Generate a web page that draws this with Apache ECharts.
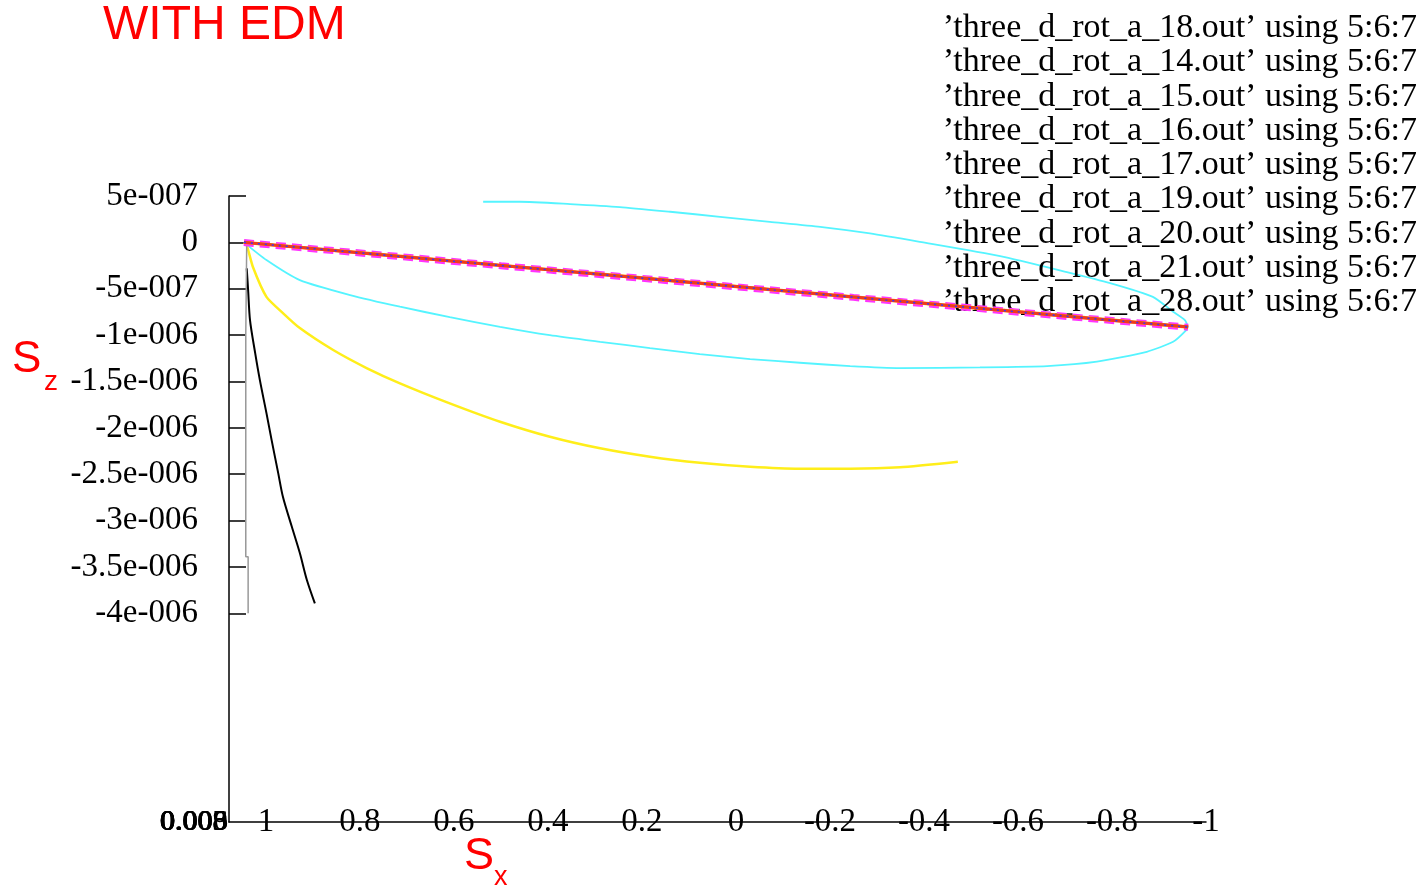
<!DOCTYPE html>
<html>
<head>
<meta charset="utf-8">
<script src="https://cdn.jsdelivr.net/npm/echarts@6/dist/echarts.min.js"></script>
<style>
html,body{margin:0;padding:0;background:#fff;}
#chart{width:1422px;height:890px;}
</style>
</head>
<body>
<div id="chart"></div>
<script>
// ---- data (Sx, Sz) ----
const seriesNames = [
  "\u2019three_d_rot_a_18.out\u2019 using 5:6:7",
  "\u2019three_d_rot_a_14.out\u2019 using 5:6:7",
  "\u2019three_d_rot_a_15.out\u2019 using 5:6:7",
  "\u2019three_d_rot_a_16.out\u2019 using 5:6:7",
  "\u2019three_d_rot_a_17.out\u2019 using 5:6:7",
  "\u2019three_d_rot_a_19.out\u2019 using 5:6:7",
  "\u2019three_d_rot_a_20.out\u2019 using 5:6:7",
  "\u2019three_d_rot_a_21.out\u2019 using 5:6:7",
  "\u2019three_d_rot_a_28.out\u2019 using 5:6:7"
];

const run18 = [[1.047,0],[0.75,-1.35e-7],[0.5,-2.49e-7],[0.25,-3.62e-7],[0,-4.76e-7],[-0.25,-5.90e-7],[-0.5,-7.03e-7],[-0.75,-8.17e-7],[-0.962,-9.13e-7]];
const run14 = [[1.041,-1.1e-8],[1.043,-1.0e-6],[1.043,-2.0e-6],[1.043,-3.39e-6],[1.038,-3.39e-6],[1.038,-4.0e-6]];
const run15 = [[1.047,0],[0.75,-1.36e-7],[0.5,-2.50e-7],[0.25,-3.63e-7],[0,-4.77e-7],[-0.25,-5.91e-7],[-0.5,-7.04e-7],[-0.75,-8.18e-7],[-0.962,-9.14e-7]];
const run16 = [[1.047,-2e-9],[0.75,-1.37e-7],[0.5,-2.52e-7],[0.25,-3.65e-7],[0,-4.79e-7],[-0.25,-5.93e-7],[-0.5,-7.06e-7],[-0.75,-8.20e-7],[-0.962,-9.15e-7]];
const run17 = [[1.047,0],[0.75,-1.34e-7],[0.5,-2.48e-7],[0.25,-3.61e-7],[0,-4.75e-7],[-0.25,-5.89e-7],[-0.5,-7.02e-7],[-0.75,-8.16e-7],[-0.962,-9.12e-7]];
const run19 = [[1.047,0],[0.999,-1.91e-7],[0.928,-4.07e-7],[0.821,-5.68e-7],[0.715,-6.94e-7],[0.609,-8.06e-7],[0.502,-9.10e-7],[0.396,-1.000e-6],[0.289,-1.072e-6],[0.183,-1.140e-6],[0.077,-1.204e-6],[-0.030,-1.258e-6],[-0.136,-1.298e-6],[-0.243,-1.334e-6],[-0.349,-1.355e-6],[-0.519,-1.348e-6],[-0.662,-1.334e-6],[-0.768,-1.287e-6],[-0.874,-1.180e-6],[-0.930,-1.072e-6],[-0.958,-9.46e-7],[-0.961,-9.10e-7],[-0.955,-8.38e-7],[-0.930,-7.48e-7],[-0.887,-5.87e-7],[-0.796,-4.39e-7],[-0.704,-3.20e-7],[-0.562,-1.48e-7],[-0.391,6e-9],[-0.285,9.7e-8],[-0.179,1.68e-7],[-0.072,2.22e-7],[0.034,2.76e-7],[0.140,3.30e-7],[0.247,3.81e-7],[0.353,4.13e-7],[0.460,4.38e-7],[0.538,4.38e-7]];
const run20 = [[1.047,0],[1.041,-2.9e-8],[1.028,-2.63e-7],[0.999,-5.87e-7],[0.964,-7.62e-7],[0.928,-9.24e-7],[0.857,-1.161e-6],[0.786,-1.355e-6],[0.715,-1.520e-6],[0.609,-1.736e-6],[0.502,-1.934e-6],[0.396,-2.096e-6],[0.289,-2.221e-6],[0.183,-2.312e-6],[0.077,-2.377e-6],[-0.030,-2.420e-6],[-0.136,-2.441e-6],[-0.243,-2.441e-6],[-0.349,-2.426e-6],[-0.472,-2.366e-6]];
const run21 = [[1.041,-2.80e-7],[1.038,-5.14e-7],[1.034,-8.38e-7],[1.023,-1.194e-6],[1.013,-1.485e-6],[0.999,-1.841e-6],[0.988,-2.132e-6],[0.974,-2.488e-6],[0.964,-2.743e-6],[0.945,-3.067e-6],[0.928,-3.350e-6],[0.913,-3.641e-6],[0.896,-3.893e-6]];
const run28 = [[1.047,0],[0.75,-1.33e-7],[0.5,-2.47e-7],[0.25,-3.60e-7],[0,-4.74e-7],[-0.25,-5.88e-7],[-0.5,-7.01e-7],[-0.75,-8.15e-7],[-0.962,-9.11e-7]];

const xTickValues = [1,0.8,0.6,0.4,0.2,0,-0.2,-0.4,-0.6,-0.8,-1];
const xTickLabels = ['1','0.8','0.6','0.4','0.2','0','-0.2','-0.4','-0.6','-0.8','-1'];
const yTickValues = [5e-7,0,-5e-7,-1e-6,-1.5e-6,-2e-6,-2.5e-6,-3e-6,-3.5e-6,-4e-6];
const yTickLabels = ['5e-007','0','-5e-007','-1e-006','-1.5e-006','-2e-006','-2.5e-006','-3e-006','-3.5e-006','-4e-006'];
const collapsedLabels = ['0.003','0.005','0.006','0.008','0.009'];

const xMin = -1, xMax = 1.0787;
const yMin = -6.25e-6, yMax = 5e-7;

function lookup(vals, labs, v, eps) {
  for (let i = 0; i < vals.length; i++) if (Math.abs(vals[i] - v) < eps) return labs[i];
  return '';
}

const serif = 'Liberation Serif';
const chart = echarts.init(document.getElementById('chart'), null, {renderer: 'canvas'});

function line(name, data, color, width, type, z, smooth) {
  return {
    name: name, type: 'line', data: data, showSymbol: false, symbol: 'none',
    smooth: smooth || false, z: z, animation: false,
    lineStyle: {color: color, width: width, type: type},
    itemStyle: {color: color}
  };
}

const graphics = [
  {type: 'text', left: 103, top: 2, style: {text: 'WITH EDM', fill: '#ff0000', font: '48px "Liberation Sans"'}},
  {type: 'text', x: 12, y: 360, style: {text: 'S', fill: '#ff0000', font: '44px "Liberation Sans"', verticalAlign: 'middle'}},
  {type: 'text', x: 44, y: 382, style: {text: 'z', fill: '#ff0000', font: '28px "Liberation Sans"', verticalAlign: 'middle'}},
  {type: 'text', x: 464, y: 857, style: {text: 'S', fill: '#ff0000', font: '45px "Liberation Sans"', verticalAlign: 'middle'}},
  {type: 'text', x: 494, y: 878, style: {text: 'x', fill: '#ff0000', font: '27px "Liberation Sans"', verticalAlign: 'middle'}}
];
collapsedLabels.forEach(function (t, i) {
  graphics.push({type: 'text', x: 228 - (i % 2), y: 822, style: {text: t, fill: '#000', font: '30px "Liberation Serif"', align: 'right', verticalAlign: 'middle'}});
});

chart.setOption({
  animation: false,
  backgroundColor: '#fff',
  grid: {left: 229, right: 216, top: 196, bottom: 68, containLabel: false},
  legend: {
    orient: 'vertical', right: 0, top: 11, padding: 0,
    itemWidth: 0, itemHeight: 0, itemGap: 0.3, align: 'right',
    selectedMode: false,
    data: seriesNames.map(function (n) { return {name: n, icon: 'rect'}; }),
    textStyle: {fontFamily: serif, fontSize: 34, color: '#000', lineHeight: 34}
  },
  xAxis: {
    type: 'value', inverse: true, min: xMin, max: xMax,
    axisLine: {show: true, onZero: false, lineStyle: {color: '#000', width: 1.5}},
    axisTick: {show: false},
    splitLine: {show: false},
    axisLabel: {
      customValues: xTickValues,
      formatter: function (v) { return lookup(xTickValues, xTickLabels, v, 1e-9); },
      fontFamily: serif, fontSize: 33, color: '#000',
      verticalAlign: 'middle', margin: 0
    }
  },
  yAxis: {
    type: 'value', min: yMin, max: yMax,
    axisLine: {show: true, onZero: false, lineStyle: {color: '#000', width: 1.5}},
    axisTick: {show: true, inside: true, length: 17, customValues: yTickValues, lineStyle: {color: '#000', width: 1.5}},
    splitLine: {show: false},
    axisLabel: {
      customValues: yTickValues,
      formatter: function (v) { return lookup(yTickValues, yTickLabels, v, 1e-12); },
      fontFamily: serif, fontSize: 33, color: '#000', margin: 31
    }
  },
  graphic: graphics,
  series: [
    line(seriesNames[5], run19, '#55f4ff', 1.8, 'solid', 2, 0.2),
    line(seriesNames[6], run20, '#ffee1a', 2.5, 'solid', 2, 0.2),
    line(seriesNames[7], run21, '#000000', 2, 'solid', 3, 0.3),
    line(seriesNames[1], run14, '#999999', 1.5, 'solid', 3),
    line(seriesNames[3], run16, '#ff33ff', 7, [10, 6], 4),
    line(seriesNames[4], run17, '#ff9a2a', 3.5, 'solid', 5),
    line(seriesNames[8], run28, '#a0522d', 2, 'solid', 5),
    line(seriesNames[0], run18, '#f03a1e', 3, 'solid', 6),
    line(seriesNames[2], run15, '#3333ff', 1.5, [2, 5], 7)
  ]
});
</script>
</body>
</html>
